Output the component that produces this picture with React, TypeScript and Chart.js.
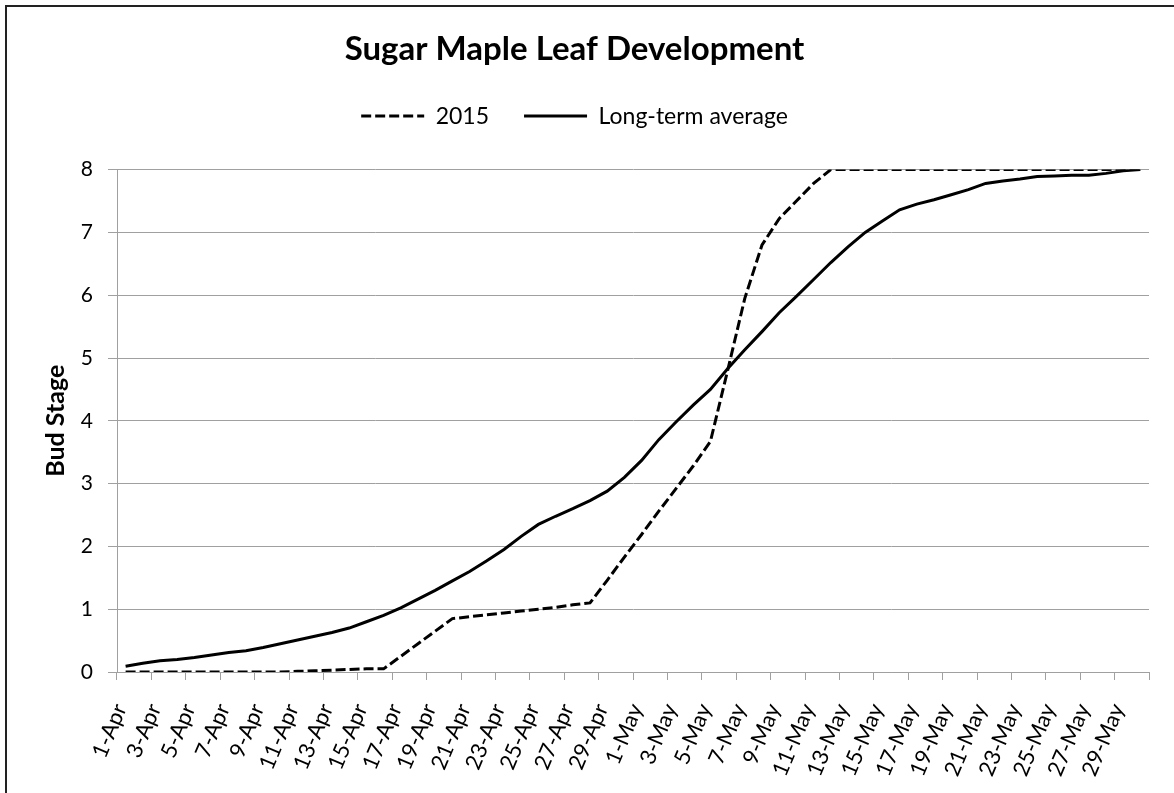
import React, { useEffect, useRef } from 'react';
import { Chart, registerables } from 'chart.js';
Chart.register(...registerables);

const dates = [
  '1-Apr','2-Apr','3-Apr','4-Apr','5-Apr','6-Apr','7-Apr','8-Apr','9-Apr','10-Apr',
  '11-Apr','12-Apr','13-Apr','14-Apr','15-Apr','16-Apr','17-Apr','18-Apr','19-Apr','20-Apr',
  '21-Apr','22-Apr','23-Apr','24-Apr','25-Apr','26-Apr','27-Apr','28-Apr','29-Apr','30-Apr',
  '1-May','2-May','3-May','4-May','5-May','6-May','7-May','8-May','9-May','10-May',
  '11-May','12-May','13-May','14-May','15-May','16-May','17-May','18-May','19-May','20-May',
  '21-May','22-May','23-May','24-May','25-May','26-May','27-May','28-May','29-May','30-May',
];

const series2015 = [
  0, 0, 0, 0, 0, 0, 0, 0, 0, 0,
  0.01, 0.02, 0.03, 0.04, 0.05, 0.05, 0.25, 0.45, 0.65, 0.85,
  0.88, 0.91, 0.94, 0.97, 1.0, 1.03, 1.07, 1.1, 1.46, 1.83,
  2.19, 2.56, 2.92, 3.28, 3.67, 4.8, 5.95, 6.8, 7.22, 7.5,
  7.78, 8, 8, 8, 8, 8, 8, 8, 8, 8,
  8, 8, 8, 8, 8, 8, 8, 8, 8, 8,
];

const longTermAverage = [
  0.09, 0.14, 0.18, 0.2, 0.23, 0.27, 0.31, 0.34, 0.39, 0.45,
  0.51, 0.57, 0.63, 0.7, 0.8, 0.9, 1.02, 1.16, 1.3, 1.45,
  1.6, 1.77, 1.95, 2.16, 2.35, 2.48, 2.6, 2.73, 2.88, 3.1,
  3.37, 3.7, 3.98, 4.25, 4.5, 4.83, 5.13, 5.42, 5.72, 5.98,
  6.25, 6.52, 6.77, 7.0, 7.18, 7.36, 7.45, 7.52, 7.6, 7.68,
  7.78, 7.82, 7.85, 7.89, 7.9, 7.91, 7.91, 7.94, 7.98, 8.0,
];

const seriesNames = ['2015', 'Long-term average'];
const seriesDash = [[10, 4], []];
const chartTitle = 'Sugar Maple Leaf Development';
const yAxisTitle = 'Bud Stage';

const FONT = 'Lato, "Open Sans", sans-serif';
const GRID = '#a0a0a0';
const LEGEND_GAP = 32;

const legendSpacer = {
  id: 'legendSpacer',
  beforeInit(chart: any) {
    const legend = chart.legend;
    if (!legend) return;
    const origFit = legend.fit;
    legend.fit = function () {
      origFit.call(this);
      this.height += LEGEND_GAP;
    };
  },
};

export default function App() {
  const ref = useRef<HTMLCanvasElement | null>(null);

  useEffect(() => {
    document.body.style.margin = '0';
    const canvas = ref.current;
    if (!canvas) return;
    const chart = new Chart(canvas, {
      type: 'line',
      data: {
        labels: dates,
        datasets: [
          {
            label: seriesNames[0],
            data: series2015,
            borderColor: '#000',
            backgroundColor: '#000',
            borderWidth: 3,
            borderDash: seriesDash[0],
            pointRadius: 0,
            pointStyle: 'line',
            tension: 0,
            fill: false,
          },
          {
            label: seriesNames[1],
            data: longTermAverage,
            borderColor: '#000',
            backgroundColor: '#000',
            borderWidth: 3,
            borderDash: seriesDash[1],
            pointRadius: 0,
            pointStyle: 'line',
            tension: 0,
            fill: false,
          },
        ],
      },
      plugins: [legendSpacer],
      options: {
        animation: false,
        responsive: false,
        maintainAspectRatio: false,
        layout: { padding: { left: 0, right: 25, top: 0, bottom: 0 } },
        plugins: {
          title: {
            display: true,
            text: chartTitle,
            color: '#000',
            font: { family: FONT, size: 33, weight: 'bold' },
            padding: { top: 30, bottom: 0 },
          },
          legend: {
            display: true,
            position: 'top',
            labels: {
              usePointStyle: true,
              pointStyle: 'line',
              pointStyleWidth: 63,
              boxWidth: 63,
              padding: 35,
              color: '#000',
              font: { family: FONT, size: 23 },
              generateLabels: (c: any) => {
                const items = (Chart as any).defaults.plugins.legend.labels.generateLabels(c);
                items.forEach((it: any) => {
                  const ds = c.data.datasets[it.datasetIndex];
                  it.lineDash = ds.borderDash || [];
                  it.lineWidth = 3;
                  it.strokeStyle = '#000';
                  it.fillStyle = '#000';
                  it.pointStyle = 'line';
                });
                return items;
              },
            },
          },
          tooltip: { enabled: false },
        },
        scales: {
          x: {
            type: 'category',
            offset: true,
            grid: {
              offset: true,
              drawOnChartArea: false,
              drawTicks: true,
              tickLength: 8,
              color: (ctx: any) =>
                ctx.index === undefined || ctx.index % 2 === 0 ? GRID : 'rgba(0,0,0,0)',
            },
            border: { display: true, color: GRID, width: 1 },
            ticks: {
              autoSkip: false,
              minRotation: 67,
              maxRotation: 67,
              padding: 20,
              labelOffset: -5,
              color: '#000',
              font: { family: FONT, size: 22 },
              callback: (_v: any, i: number) => (i % 2 === 0 ? dates[i] : ''),
            },
            afterFit: (scale: any) => {
              scale.height = 121;
              scale.paddingLeft = 0;
              scale.paddingRight = 0;
            },
          },
          y: {
            min: 0,
            max: 8,
            ticks: {
              stepSize: 1,
              padding: 15,
              color: '#000',
              font: { family: FONT, size: 21 },
            },
            grid: { color: GRID, tickLength: 9, lineWidth: 1 },
            border: { display: true, color: GRID, width: 1 },
            title: {
              display: true,
              text: yAxisTitle,
              color: '#000',
              font: { family: FONT, size: 25, weight: 'bold' },
              padding: { top: 41, bottom: 0 },
            },
            afterFit: (scale: any) => {
              scale.width = 117;
            },
          },
        },
      },
    });
    return () => chart.destroy();
  }, []);

  return (
    <div style={{ position: 'fixed', left: 0, top: 0, width: 1174, height: 793, overflow: 'hidden', background: '#fff' }}>
      <div
        style={{
          position: 'absolute',
          left: 5,
          top: 5,
          width: 1200,
          height: 820,
          border: '2px solid #222',
          boxSizing: 'border-box',
        }}
      />
      <canvas ref={ref} width={1174} height={793} style={{ position: 'absolute', left: 0, top: 0, width: 1174, height: 793 }} />
    </div>
  );
}
